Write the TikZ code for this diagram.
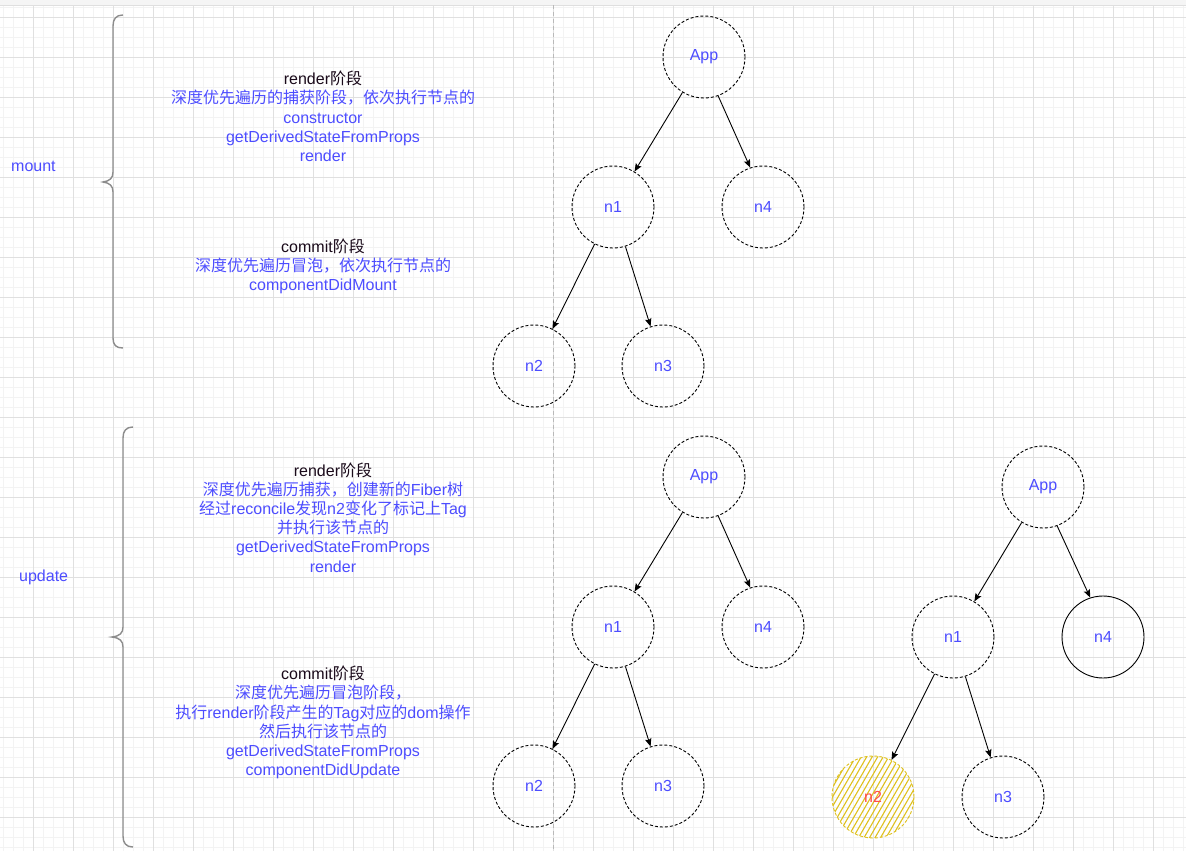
\documentclass[tikz,border=0pt]{standalone}
\usepackage{fontspec}
\setmainfont{Liberation Sans}
\newfontfamily\cjk{Noto Sans CJK SC}
\newcommand\zh[1]{{\cjk #1}}
\usetikzlibrary{arrows.meta}
\definecolor{txtblue}{HTML}{4D4DFF}
\definecolor{titlec}{HTML}{1A0A1A}
\definecolor{hatchy}{HTML}{DFC11F}
\definecolor{n2red}{HTML}{FF4D4D}
\definecolor{bracec}{HTML}{8C8C8C}
\definecolor{minorc}{HTML}{F3F3F3}
\definecolor{majorc}{HTML}{E0E0E0}
\tikzset{
  tnode/.style={circle, draw=black, line width=0.9pt, dash pattern=on 3pt off 2pt,
    minimum size=82pt, inner sep=0pt, font=\fontsize{16}{19}\selectfont, text=txtblue},
  solidnode/.style={tnode, solid},
  hatched/.style={tnode, draw=hatchy, text=n2red,
    path picture={\foreach \i in {-90,-84.5,...,90}
      \draw[hatchy, line width=1.1pt, solid]
        ([xshift={(\i-30)*1pt}, yshift=-52pt]path picture bounding box.center) --
        ([xshift={(\i+30)*1pt}, yshift=52pt]path picture bounding box.center);}},
  link/.style={-{Stealth[length=8pt,width=6.5pt,inset=1.5pt]}, line width=0.9pt, draw=black},
  note/.style={align=center, font=\fontsize{16}{19.2}\selectfont, text=txtblue, inner sep=0pt},
  sidelabel/.style={anchor=west, font=\fontsize{16}{19}\selectfont, text=txtblue, inner sep=0pt},
  brace/.style={draw=bracec, line width=1.4pt},
  minorline/.style={draw=minorc, line width=0.8pt},
  majorline/.style={draw=majorc, line width=0.8pt}
}
\begin{document}
\begin{tikzpicture}[x=1pt,y=-1pt]
\useasboundingbox (0,0) rectangle (1186,851);
\fill[white] (0,0) rectangle (1186,851);
% grid
\foreach \x in {3,13,...,1183} \draw[minorline] (\x,5) -- (\x,851);
\foreach \y in {7,17,...,847} \draw[minorline] (0,\y) -- (1186,\y);
\foreach \x in {33,73,...,1153} \draw[majorline] (\x,5) -- (\x,851);
\foreach \y in {17,57,...,817} \draw[majorline] (0,\y) -- (1186,\y);
\fill[gray!8] (0,0) rectangle (1186,5);
\draw[gray!25, line width=0.6pt] (0,5) -- (1186,5);
% vertical dashed separator
\draw[gray!55, dash pattern=on 4pt off 3pt, line width=0.8pt] (553.3,5) -- (553.3,851);

% side labels
\node[sidelabel] (lmount) at (11,166) {mount};
\node[sidelabel] (lupdate) at (19,577) {update};

% braces
\draw[brace] (123,15) .. controls (116,15) and (113,19) .. (113,26) -- (113,172)
  .. controls (113,178) and (110,181) .. (103,182) .. controls (110,183) and (113,186) .. (113,192)
  -- (113,338) .. controls (113,345) and (116,348) .. (123,348);
\draw[brace] (133,427) .. controls (126,427) and (123,431) .. (123,438) -- (123,627)
  .. controls (123,633) and (120,636) .. (112,637) .. controls (120,638) and (123,641) .. (123,647)
  -- (123,836) .. controls (123,843) and (126,847) .. (133,847);

% text blocks
\node[note] (mrender) at (323,116.5) {\textcolor{titlec}{render\zh{阶段}}\\
  \zh{深度优先遍历的捕获阶段，依次执行节点的}\\
  constructor\\ getDerivedStateFromProps\\ render};
\node[note] (mcommit) at (323,266.5) {\textcolor{titlec}{commit\zh{阶段}}\\
  \zh{深度优先遍历冒泡，依次执行节点的}\\
  componentDidMount};
\node[note] (urender) at (333,517.5) {\textcolor{titlec}{render\zh{阶段}}\\
  \zh{深度优先遍历捕获，创建新的}Fiber\zh{树}\\
  \zh{经过}reconcile\zh{发现}n2\zh{变化了标记上}Tag\\
  \zh{并执行该节点的}\\
  getDerivedStateFromProps\\ render};
\node[note] (ucommit) at (323,722.5) {\textcolor{titlec}{commit\zh{阶段}}\\
  \zh{深度优先遍历冒泡阶段，}\\
  \zh{执行}render\zh{阶段产生的}Tag\zh{对应的}dom\zh{操作}\\
  \zh{然后执行该节点的}\\
  getDerivedStateFromProps\\ componentDidUpdate};

% mount tree
\node[tnode] (mApp) at (704,57) {App};
\node[tnode] (mn1) at (613,207) {n1};
\node[tnode] (mn4) at (763,207) {n4};
\node[tnode] (mn2) at (534,366) {n2};
\node[tnode] (mn3) at (663,366) {n3};
\draw[link] (mApp) -- (mn1);
\draw[link] (mApp.-70) -- (mn4.108);
\draw[link] (mn1) -- (mn2);
\draw[link] (mn1) -- (mn3);

% update tree (middle)
\node[tnode] (uApp) at (704,477) {App};
\node[tnode] (un1) at (613,627) {n1};
\node[tnode] (un4) at (763,627) {n4};
\node[tnode] (un2) at (534,786) {n2};
\node[tnode] (un3) at (663,786) {n3};
\draw[link] (uApp) -- (un1);
\draw[link] (uApp.-70) -- (un4.108);
\draw[link] (un1) -- (un2);
\draw[link] (un1) -- (un3);

% update tree (right)
\node[tnode] (rApp) at (1043,487) {App};
\node[tnode] (rn1) at (953,637) {n1};
\node[solidnode] (rn4) at (1103,637) {n4};
\node[hatched] (rn2) at (873,797) {n2};
\node[tnode] (rn3) at (1003,797) {n3};
\draw[link] (rApp) -- (rn1);
\draw[link] (rApp.-70) -- (rn4.108);
\draw[link] (rn1) -- (rn2);
\draw[link] (rn1) -- (rn3);
\end{tikzpicture}
\end{document}
